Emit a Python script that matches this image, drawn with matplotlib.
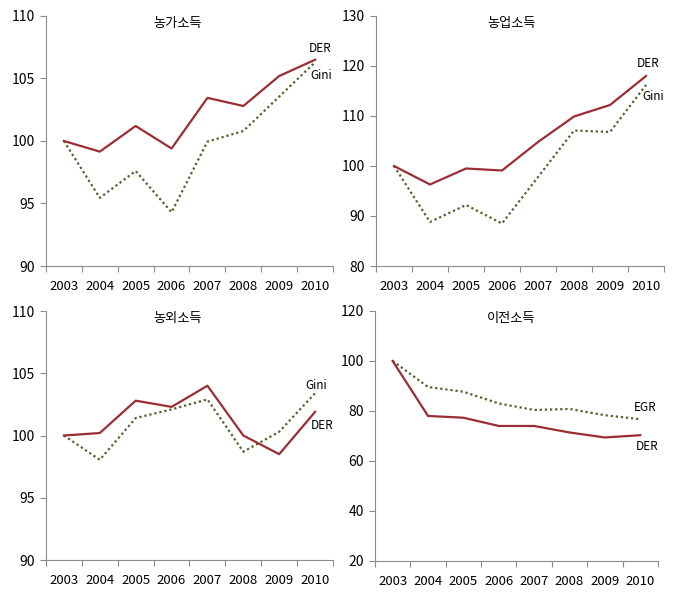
import matplotlib
matplotlib.use('Agg')
import matplotlib.pyplot as plt
import numpy as np

plt.rcParams['font.family'] = ['Liberation Sans Narrow', 'Noto Sans CJK KR', 'DejaVu Sans']

years = ['2003', '2004', '2005', '2006', '2007', '2008', '2009', '2010']

# 농가소득
farm_der = [100, 99.15, 101.2, 99.4, 103.45, 102.8, 105.2, 106.5]
farm_gini = [100, 95.45, 97.6, 94.3, 99.95, 100.8, 103.55, 106.3]
# 농업소득
agri_der = [100, 96.3, 99.5, 99.1, 104.8, 109.9, 112.2, 118.0]
agri_gini = [100, 88.8, 92.2, 88.5, 97.8, 107.1, 106.8, 116.2]
# 농외소득
nonfarm_der = [100, 100.2, 102.8, 102.3, 104.0, 100.0, 98.5, 101.9]
nonfarm_gini = [100, 98.05, 101.4, 102.1, 102.9, 98.7, 100.3, 103.4]
# 이전소득
trans_der = [100, 78.0, 77.3, 74.0, 74.0, 71.4, 69.4, 70.3]
trans_egr = [100, 89.6, 87.7, 83.0, 80.4, 80.8, 78.3, 76.7]

red = '#9B2D35'
green = '#4F6228'
grey = '#8C8C8C'

panels = [
    ('농가소득', farm_der, farm_gini, 'Gini', (90, 110, 5),
     [0.0673, 0.5574, 0.4203, 0.416], 0.46,
     (7.13, 107.4), (7.16, 105.2)),
    ('농업소득', agri_der, agri_gini, 'Gini', (80, 130, 10),
     [0.5505, 0.5574, 0.4217, 0.416], 0.47,
     (7.06, 120.4), (7.2, 113.8)),
    ('농외소득', nonfarm_der, nonfarm_gini, 'Gini', (90, 110, 5),
     [0.0673, 0.0682, 0.4203, 0.4143], 0.46,
     (7.19, 100.8), (7.02, 104.05)),
    ('이전소득', trans_der, trans_egr, 'EGR', (20, 120, 20),
     [0.549, 0.0666, 0.4143, 0.416], 0.48,
     (7.18, 65.6), (7.13, 81.2)),
]

fig = plt.figure(figsize=(6.83, 6.01), dpi=100)

for title, der, other, oname, (lo, hi, step), rect, tx, der_pos, oth_pos in panels:
    ax = fig.add_axes(rect)
    x = np.arange(len(years))
    ax.plot(x, other, color=green, lw=1.6, linestyle=(0, (1, 1.3)))
    ax.plot(x, der, color=red, lw=1.6)
    ax.set_xlim(-0.5, len(years) - 0.5)
    ax.set_ylim(lo, hi)
    ax.set_yticks(np.arange(lo, hi + 0.1, step))
    # ticks at category borders, labels at category centres
    ax.set_xticks(np.arange(-0.5, len(years), 1.0))
    ax.set_xticklabels([])
    ax.set_xticks(x, minor=True)
    ax.set_xticklabels(years, minor=True)
    ax.tick_params(axis='x', which='minor', length=0, pad=10, labelsize=9.5)
    ax.tick_params(axis='x', which='major', length=4, color=grey, direction='out')
    ax.tick_params(axis='y', length=4, color=grey, labelsize=10, pad=4)
    for s in ['top', 'right']:
        ax.spines[s].set_visible(False)
    for s in ['left', 'bottom']:
        ax.spines[s].set_color(grey)
        ax.spines[s].set_linewidth(0.8)
    ax.text(tx, 0.968, title, transform=ax.transAxes, ha='center', va='center',
            fontsize=9.5, family=['Noto Sans CJK KR', 'DejaVu Sans'])
    ax.text(der_pos[0], der_pos[1], 'DER', ha='center', va='center', fontsize=8.5)
    ax.text(oth_pos[0], oth_pos[1], oname, ha='center', va='center', fontsize=8.5)

fig.savefig('out.png', dpi=100)
